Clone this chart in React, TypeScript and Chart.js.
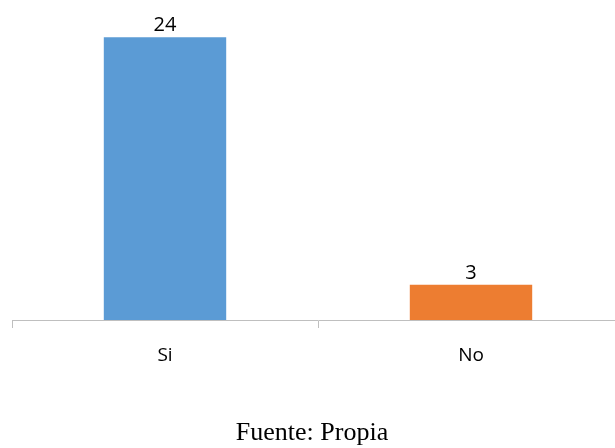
import React, { useEffect, useRef } from "react";
import { Chart, registerables } from "chart.js";

Chart.register(...registerables);

const categories = ["Si", "No"];
const values = [24, 3];
const barColors = ["#5B9BD5", "#ED7D31"];
const sourceNote = "Fuente: Propia";

const dataLabels = {
  id: "dataLabels",
  afterDatasetsDraw(chart: any) {
    const ctx = chart.ctx;
    const meta = chart.getDatasetMeta(0);
    ctx.save();
    ctx.font = '20px "Open Sans"';
    ctx.fillStyle = "#000000";
    ctx.textAlign = "center";
    ctx.textBaseline = "alphabetic";
    meta.data.forEach((bar: any, i: number) => {
      ctx.fillText(String(values[i]), bar.x, bar.y - 6);
    });
    ctx.restore();
  },
};

export default function App() {
  const ref = useRef<HTMLCanvasElement>(null);
  useEffect(() => {
    if (!ref.current) return;
    const chart = new Chart(ref.current, {
      type: "bar",
      data: {
        labels: categories,
        datasets: [
          {
            data: values,
            backgroundColor: barColors,
            borderWidth: 0,
            barPercentage: 0.4,
            categoryPercentage: 1,
          },
        ],
      },
      options: {
        responsive: false,
        animation: false,
        layout: { padding: { left: 12, right: 16, top: 2, bottom: 0 } },
        plugins: { legend: { display: false }, tooltip: { enabled: false } },
        scales: {
          y: { display: false, min: 0, max: 27 },
          x: {
            afterFit(scale: any) {
              scale.height = 128;
            },
            border: { display: true, color: "#BFBFBF", width: 1 },
            grid: {
              display: true,
              drawOnChartArea: false,
              drawTicks: true,
              tickLength: 8,
              color: "#BFBFBF",
              offset: true,
            },
            ticks: {
              color: "#000000",
              font: { family: "Open Sans", size: 19 },
              padding: 16,
            },
          },
        },
      },
      plugins: [dataLabels],
    });
    return () => chart.destroy();
  }, []);
  return (
    <div
      style={{
        position: "fixed",
        left: 0,
        top: 0,
        width: 615,
        height: 448,
        overflow: "hidden",
        background: "#ffffff",
      }}
    >
      <canvas
        ref={ref}
        width={640}
        height={448}
        style={{ position: "absolute", left: 0, top: 0, width: 640, height: 448 }}
      />
      <div
        style={{
          position: "absolute",
          left: 0,
          width: 624,
          top: 417,
          textAlign: "center",
          fontFamily: '"Liberation Serif", "Times New Roman", serif',
          fontSize: 26,
          color: "#000000",
          whiteSpace: "nowrap",
        }}
      >
        {sourceNote}
      </div>
    </div>
  );
}
